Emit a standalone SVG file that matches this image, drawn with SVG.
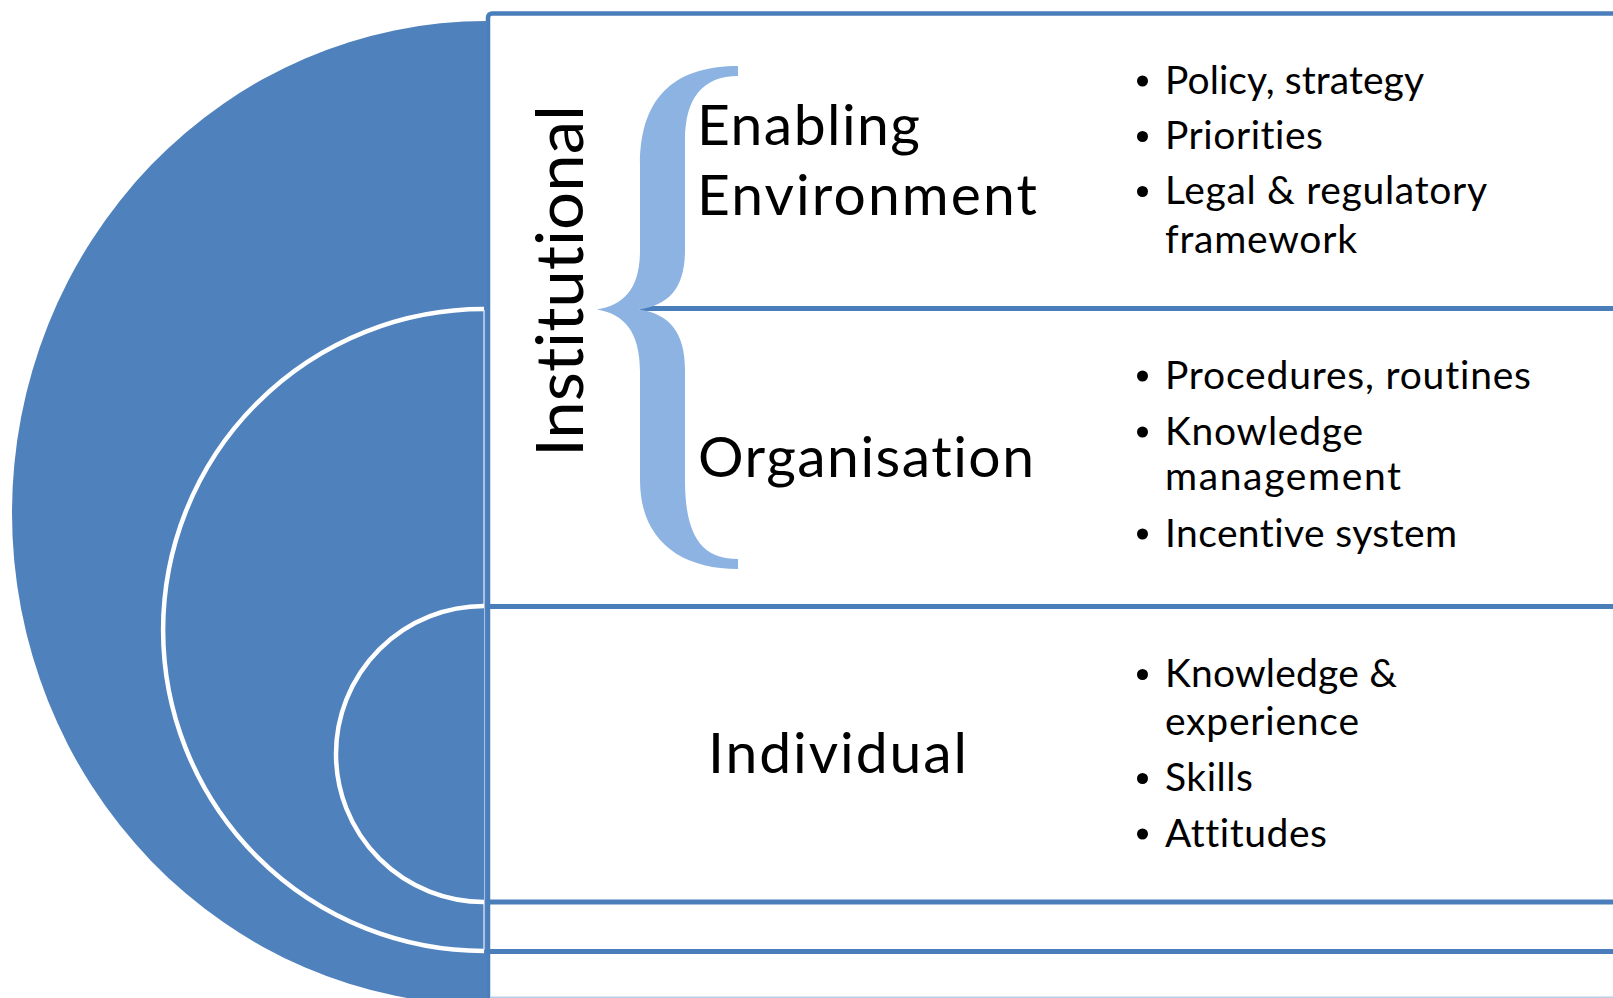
<svg xmlns="http://www.w3.org/2000/svg" width="1613" height="998" viewBox="0 0 1613 998">
<style>
text{font-variant-ligatures:none;font-feature-settings:"liga" 0,"clig" 0,"dlig" 0}
.blue{fill:#4f81bd}
.edge{stroke:#dce6f2;stroke-width:1.3}
.line{stroke:#4a7ebb;stroke-width:5;fill:none}
.big{font-family:Lato,"Open Sans",sans-serif;font-size:57px;fill:#000}
.inst{font-family:Lato,"Open Sans",sans-serif;font-size:66px;fill:#000}
.bul{font-family:Lato,"Open Sans",sans-serif;font-size:39px;fill:#000}
.dot{fill:#000}
</style>
<rect x="0" y="0" width="1613" height="998" fill="#ffffff"/>
<g id="frame">
<rect x="488" y="13.5" width="1140" height="1000" rx="4" fill="#ffffff" stroke="#4a7ebb" stroke-width="4.5"/>
</g>
<g id="circles">
<path class="blue" d="M487,21 A475,492 0 0 0 487,1005 Z"/>
<path class="blue" d="M484,309 A321,321 0 0 0 484,951 Z"/>
<path fill="none" stroke="#fff" stroke-width="4.5" d="M484,309 A321,321 0 0 0 484,951"/>
<line class="edge" x1="484" y1="310" x2="484" y2="950"/>
<path class="blue" d="M484,606 A148,148 0 0 0 484,902 Z"/>
<path fill="none" stroke="#fff" stroke-width="4.5" d="M484,606 A148,148 0 0 0 484,902"/>
</g>
<g id="connectors">
<line class="line" x1="640" y1="308.5" x2="1613" y2="308.5" stroke-width="4.5"/>
<line class="line" x1="486" y1="606.5" x2="1613" y2="606.5"/>
<line class="line" x1="486" y1="902" x2="1613" y2="902"/>
<line class="line" x1="486" y1="951.5" x2="1613" y2="951.5"/>
<line x1="490" y1="997.2" x2="1613" y2="997.2" stroke="#b9cde5" stroke-width="1.6"/>
</g>
<g id="brace">
<path fill="#8db3e2" d="M738,66 C680,66 640,92 640,165 L640,250 C640,290 623,305 597,309.5 C623,314 640,330 640,372 L640,480 C640,540 680,569 738,569 L738,559 C701,559 685,535 685,480 L685,370 C685,333 670,314 639,309.5 C670,305 685,287 685,250 L685,140 C685,98 703,76 738,76 Z"/>
</g>
<g id="institutional">
<text class="inst" transform="translate(583,457) rotate(-90)" textLength="352" lengthAdjust="spacingAndGlyphs">Institutional</text>
</g>
<g id="enabling">
<text class="big" x="697" y="145" textLength="223">Enabling</text>
<text class="big" x="697" y="215" textLength="340">Environment</text>
<circle class="dot" cx="1142.5" cy="81" r="5.5"/>
<text class="bul" x="1165" y="93.5" textLength="259">Policy, strategy</text>
<circle class="dot" cx="1142.5" cy="136.5" r="5.5"/>
<text class="bul" x="1165" y="149" textLength="158">Priorities</text>
<circle class="dot" cx="1142.5" cy="191.5" r="5.5"/>
<text class="bul" x="1165" y="204" textLength="322">Legal &amp; regulatory</text>
<text class="bul" x="1165" y="252.5" textLength="192">framework</text>
</g>
<g id="organisation">
<text class="big" x="698" y="477" textLength="336">Organisation</text>
<circle class="dot" cx="1142.5" cy="376" r="5.5"/>
<text class="bul" x="1165" y="388.5" textLength="366">Procedures, routines</text>
<circle class="dot" cx="1142.5" cy="432" r="5.5"/>
<text class="bul" x="1165" y="444.5" textLength="198">Knowledge</text>
<text class="bul" x="1165" y="490" textLength="236">management</text>
<circle class="dot" cx="1142.5" cy="534" r="5.5"/>
<text class="bul" x="1165" y="546.5" textLength="292">Incentive system</text>
</g>
<g id="individual">
<text class="big" x="708" y="773" textLength="259">Individual</text>
<circle class="dot" cx="1142.5" cy="674.5" r="5.5"/>
<text class="bul" x="1165" y="687" textLength="232">Knowledge &amp;</text>
<text class="bul" x="1165" y="734.5" textLength="194">experience</text>
<circle class="dot" cx="1142.5" cy="778.5" r="5.5"/>
<text class="bul" x="1165" y="791" textLength="88">Skills</text>
<circle class="dot" cx="1142.5" cy="834" r="5.5"/>
<text class="bul" x="1165" y="846.5" textLength="162">Attitudes</text>
</g>
</svg>
